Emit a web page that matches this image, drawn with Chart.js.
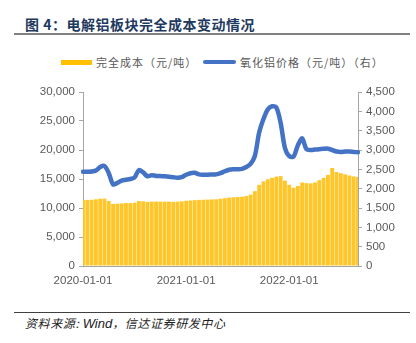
<!DOCTYPE html>
<html>
<head>
<meta charset="utf-8">
<script src="https://cdn.jsdelivr.net/npm/chart.js@4/dist/chart.umd.min.js"></script>
<style>
  body { margin: 0; background: #fff; }
  #wrap { position: relative; width: 416px; height: 343px; overflow: hidden; font-family: 'Liberation Sans', Arial, 'Noto Sans CJK SC', sans-serif; }
  #title { position: absolute; left: 25px; top: 14px; font-family: 'Noto Sans CJK SC', sans-serif; font-weight: bold; font-size: 14px; line-height: 20px; letter-spacing: 0.5px; color: #1f3a60; }
  #rule1 { position: absolute; left: 14px; top: 33px; width: 396px; height: 2px; background: #808080; }
  #legend { position: absolute; top: 54px; left: 0; width: 416px; height: 16px; font-family: 'Noto Sans CJK SC', sans-serif; font-size: 11px; color: #595959; }
  .lg { position: absolute; top: 0; line-height: 16px; white-space: nowrap; letter-spacing: 1px; }
  .sw { position: absolute; }
  #rule2 { position: absolute; left: 14px; top: 312px; width: 396px; height: 1px; background: #404040; }
  #source { position: absolute; left: 25px; top: 314px; font-family: 'Noto Sans CJK SC', sans-serif; font-style: italic; font-size: 12px; line-height: 18px; letter-spacing: 0.6px; color: #222; }
  #source .en { font-family: 'Liberation Sans', Arial, sans-serif; font-size: 13px; letter-spacing: 0; }
  canvas { position: absolute; left: 0; top: 80px; }
</style>
</head>
<body>
<div id="wrap">
  <div id="title">图 4：电解铝板块完全成本变动情况</div>
  <div id="rule1"></div>
  <div id="legend">
    <div class="sw" style="left:61px; top:6px; width:31px; height:5px; background:#ffc000;"></div>
    <div class="lg" style="left:96px;">完全成本（元/吨）</div>
    <div class="sw" style="left:203px; top:6px; width:33px; height:4px; border-radius:2px; background:#4472c4;"></div>
    <div class="lg" style="left:240px;">氧化铝价格（元/吨）（右）</div>
  </div>
  <canvas id="myChart" width="416" height="220"></canvas>
  <div id="rule2"></div>
  <div id="source">资料来源: <span class="en">Wind</span>，信达证券研发中心</div>
</div>
<script>
// Data Definitions (semi-monthly, 2020-01-01 .. 2022-09-01)
const startYear = 2020;
const pointCount = 65;
const dates = [];
for (let i = 0; i < pointCount; i++) {
    const y = startYear + Math.floor(i / 24);
    const m = Math.floor((i % 24) / 2) + 1;
    const d = i % 2 === 0 ? '01' : '16';
    dates.push(y + '-' + String(m).padStart(2, '0') + '-' + d);
}

const tickLabels = ['2020-01-01', '2021-01-01', '2022-01-01'];

// 完全成本（元/吨）
const fullCost = [
    11400, 11400, 11420, 11500, 11600, 11620, 11200, 10700, 10750, 10800,
    10850, 10850, 10900, 11200, 11150, 11050, 11100, 11100, 11100, 11100,
    11100, 11050, 11100, 11150, 11250, 11300, 11350, 11400, 11420, 11450,
    11480, 11500, 11600, 11700, 11800, 11850, 11900, 11950, 12050, 12300,
    12900, 14000, 14600, 14950, 15200, 15400, 15500, 14700, 14000, 13500,
    13800, 14400, 14300, 14250, 14400, 14800, 15200, 15700, 16900, 16200,
    16000, 15800, 15600, 15450, 15350
];

// 氧化铝价格（元/吨）（右）
const aluminaPrice = [
    2440, 2440, 2445, 2470, 2560, 2585, 2400, 2110, 2150, 2210,
    2230, 2250, 2290, 2480, 2420, 2320, 2350, 2330, 2325, 2320,
    2310, 2295, 2285, 2300, 2360, 2400, 2410, 2370, 2360, 2360,
    2365, 2370, 2400, 2450, 2490, 2500, 2500, 2510, 2560, 2640,
    2850, 3450, 3800, 4050, 4130, 4100, 3700, 3050, 2840, 2830,
    3120, 3300, 3020, 3000, 3010, 3020, 3030, 3035, 3000, 2960,
    2950, 2960, 2960, 2950, 2940
];

const axisColor = '#a6a6a6';
const labelColor = '#595959';
const tickFont = { family: "'Liberation Sans', Arial, sans-serif", size: 11.5 };

const ctx = document.getElementById('myChart').getContext('2d');
new Chart(ctx, {
    type: 'bar',
    data: {
        labels: dates,
        datasets: [
            {
                type: 'line',
                label: '氧化铝价格（元/吨）（右）',
                data: aluminaPrice,
                yAxisID: 'y1',
                borderColor: '#4472c4',
                borderWidth: 4.5,
                pointRadius: 0,
                tension: 0.3,
                borderCapStyle: 'round',
                borderJoinStyle: 'round',
                order: 0
            },
            {
                label: '完全成本（元/吨）',
                data: fullCost,
                yAxisID: 'y',
                backgroundColor: '#ffc62a',
                borderWidth: 0,
                barPercentage: 0.9,
                categoryPercentage: 1,
                order: 1
            }
        ]
    },
    options: {
        responsive: false,
        animation: false,
        layout: { padding: { top: 12, right: 0, left: 0, bottom: 0 } },
        plugins: {
            legend: { display: false },
            tooltip: { enabled: false }
        },
        scales: {
            x: {
                offset: false,
                grid: { display: false, drawTicks: false },
                border: { color: axisColor },
                ticks: {
                    autoSkip: false,
                    maxRotation: 0,
                    padding: 8,
                    color: labelColor,
                    font: tickFont,
                    callback: function (value) {
                        const label = this.getLabelForValue(value);
                        return tickLabels.includes(label) ? label : '';
                    }
                },
                afterFit: function (scale) { scale.height = 34; }
            },
            y: {
                position: 'left',
                min: 0,
                max: 30000,
                ticks: {
                    stepSize: 5000,
                    color: labelColor,
                    font: tickFont,
                    padding: 4,
                    callback: v => v.toLocaleString('en-US')
                },
                grid: { drawOnChartArea: false, color: axisColor, tickLength: 4 },
                border: { color: axisColor },
                afterFit: function (scale) { scale.width = 83; }
            },
            y1: {
                position: 'right',
                min: 0,
                max: 4500,
                ticks: {
                    stepSize: 500,
                    color: labelColor,
                    font: tickFont,
                    padding: 4,
                    callback: v => v.toLocaleString('en-US')
                },
                grid: { drawOnChartArea: false, color: axisColor, tickLength: 4 },
                border: { color: axisColor },
                afterFit: function (scale) { scale.width = 58; }
            }
        }
    }
});
</script>
</body>
</html>
